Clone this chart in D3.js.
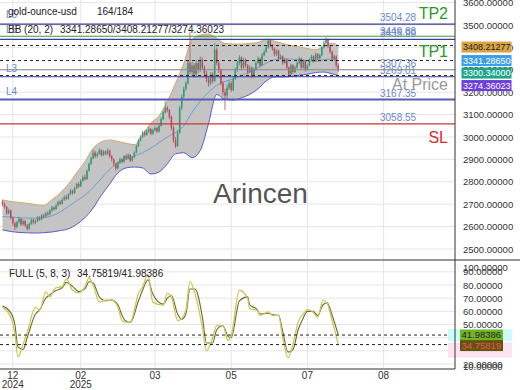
<!DOCTYPE html>
<html><head><meta charset="utf-8">
<script src="https://cdn.jsdelivr.net/npm/d3@7/dist/d3.min.js"></script>
<style>html,body{margin:0;padding:0;background:#fff;}svg{display:block;font-family:"Liberation Sans",Arial,sans-serif;}</style>
</head><body><svg id="c" width="520" height="390"></svg>
<script>
// ---------- data ----------
const firstOpen = 2712;
const closes = [2700,2688,2660,2672,2640,2615,2598,2620,2635,2610,2625,2605,2590,2612,2630,2618,2625,2640,2632,2650,2645,2660,2655,2672,2685,2678,2695,2710,2702,2720,2732,2725,2745,2760,2750,2772,2790,2780,2805,2820,2812,2850,2880,2905,2930,2915,2925,2940,2920,2935,2925,2940,2915,2900,2880,2860,2885,2900,2890,2915,2905,2920,2895,2910,2930,2960,2985,3000,3020,3010,3025,3035,3015,3030,3040,3025,3050,3080,3110,3130,3120,3090,3040,2985,2960,3020,3130,3180,3215,3240,3330,3290,3320,3280,3330,3300,3345,3310,3285,3260,3240,3280,3250,3390,3330,3300,3240,3200,3185,3220,3240,3210,3260,3300,3330,3355,3310,3345,3320,3290,3310,3270,3300,3330,3350,3320,3365,3380,3400,3430,3410,3395,3370,3385,3350,3360,3330,3345,3310,3280,3320,3290,3310,3330,3350,3310,3340,3300,3320,3345,3360,3340,3370,3350,3365,3400,3420,3435,3405,3380,3350,3360,3320,3300.34];
const highs = [2720,2708,2692,2680,2676,2645,2622,2626,2642,2638,2632,2630,2612,2618,2636,2635,2632,2648,2646,2656,2658,2666,2668,2678,2692,2690,2702,2716,2718,2726,2740,2742,2750,2768,2765,2778,2796,2798,2812,2828,2832,2856,2886,2912,2945,2938,2932,2950,2945,2942,2940,2948,2944,2920,2905,2885,2892,2908,2906,2920,2922,2928,2924,2916,2936,2966,2992,3008,3028,3030,3034,3045,3040,3038,3050,3046,3058,3088,3118,3160,3140,3125,3095,3050,3000,3030,3140,3190,3225,3250,3340,3470,3335,3330,3345,3340,3360,3355,3320,3295,3270,3290,3290,3420,3400,3340,3305,3250,3215,3235,3255,3250,3270,3310,3340,3365,3360,3355,3350,3325,3320,3315,3310,3340,3360,3355,3375,3390,3410,3440,3438,3415,3400,3392,3390,3370,3365,3352,3350,3315,3328,3325,3318,3338,3358,3355,3348,3345,3328,3352,3368,3365,3378,3375,3372,3408,3430,3445,3440,3410,3385,3368,3365,3330];
const lows = [2690,2680,2652,2655,2632,2605,2585,2592,2614,2602,2604,2598,2582,2586,2606,2610,2612,2620,2625,2628,2638,2640,2648,2650,2666,2670,2674,2690,2696,2698,2715,2718,2720,2740,2742,2746,2766,2772,2776,2800,2805,2808,2845,2875,2900,2905,2908,2920,2912,2915,2918,2920,2908,2890,2870,2848,2855,2880,2882,2885,2898,2900,2888,2890,2905,2926,2955,2980,2995,3002,3005,3018,3008,3010,3024,3018,3020,3045,3075,3105,3110,3080,3030,2975,2950,2955,3015,3120,3170,3205,3235,3280,3275,3265,3270,3285,3290,3300,3270,3245,3225,3230,3240,3245,3320,3285,3230,3185,3120,3170,3210,3200,3205,3255,3290,3320,3300,3305,3310,3280,3285,3262,3265,3295,3325,3310,3315,3360,3375,3395,3400,3385,3360,3362,3342,3345,3322,3325,3300,3268,3275,3282,3285,3305,3325,3302,3305,3292,3295,3315,3340,3332,3335,3342,3345,3360,3395,3412,3398,3372,3342,3340,3310,3290];

// Bollinger Bands (20, 2), read at sampled bars
const bbBars  = [0,4,8,12,16,20,24,28,32,36,40,44,48,52,56,60,64,68,72,76,80,84,88,92,96,100,104,108,112,116,120,124,128,132,136,140,144,148,152,156,160,163];
const bbUpper = [2719,2712,2708,2704,2698,2695,2720,2750,2790,2840,2890,2950,2978,2987,2980,2972,2966,3010,3062,3095,3160,3240,3330,3435,3455,3460,3440,3418,3415,3415,3418,3422,3435,3428,3418,3408,3402,3395,3390,3405,3418,3408.21277];
const bbMid   = [2645,2643,2640,2638,2638,2640,2648,2665,2690,2715,2740,2775,2815,2855,2885,2900,2915,2930,2950,2975,3000,3020,3050,3110,3160,3200,3230,3248,3260,3275,3290,3310,3330,3345,3350,3348,3345,3340,3338,3345,3348,3341.2865];
const bbLower = [2585,2578,2574,2572,2571,2573,2576,2582,2590,2610,2640,2683,2740,2790,2840,2862,2866,2862,2835,2844,2880,2925,2930,2908,2940,3060,3190,3168,3165,3175,3190,3215,3250,3268,3268,3270,3276,3280,3288,3290,3282,3274.36023];

// FULL stochastic (5, 8, 3), read at sampled bars
const oscBars = [0,4,6,7.5,10,12,16,18,21,23,25.5,29,31,34,37,40,42,44,47,50,53,56,58,59.5,62,66,68,70.6,73,78,80,82,85,87,89,91,93.4,97,99,102,104,107,109.5,111,115,119,120,123.5,125,129,131,134,136,138.6,141,143.5,146,148,150.7,153,155.6,157.6,160,163];
const oscK = [63,55.6,43,25.4,35,44,63,60.8,74.8,71,77.7,78.7,84.6,76,74,78.7,85.3,80,67,68.5,68.5,63.3,53,51.8,51.8,73.6,78.7,88,67,64.6,73.6,71,53,54.6,60.8,82.6,73.6,48,30,40,49.2,49.2,37.7,41.5,76,69.8,62,60.8,57,59.5,57,57,40,24.8,35,51.8,58,61.3,59.5,55.6,68.5,66,53,34.75819];
const oscD = [64,59,50,33,31,40,58,61,70,72.5,75.5,78,82,79,75,77,82.5,81.5,71,68,68.5,65,57,53,51.5,68,76,84,73,65.5,70,72,58,54,58,77,77,56,36,36,46,49,41,40,68,71,65,61.5,58,58.5,57.5,57,45,29,31,46,55,60,60,57,65,66.5,57,41.98386];

// levels
const levels = [
  {v:3504.28, label:"3504.28", color:"#3a3a90", w:1.2, off:3},
  {v:3449.88, label:"3449.88", color:"#3d9a3d", w:1.2, off:1},
  {v:3435.99, label:"3435.99", color:"#3a3aa0", w:1.2, off:2},
  {v:3300.34, label:"3307.36", color:"#8a8a8a", w:1,   off:3},
  {v:3269.01, label:"3269.01", color:"#3a3aa0", w:1.2, off:3},
  {v:3167.35, label:"3167.35", color:"#5a5ab0", w:2,   off:3},
  {v:3058.55, label:"3058.55", color:"#cc3333", w:1.2, off:3}
];
const dashedLevels = [3408.21277, 3341.2865, 3274.36023];
const priceTicks = [2500,2600,2700,2800,2900,3000,3100,3200,3300,3400,3500,3600];
const oscTicks = [10,20,30,40,50,60,70,80,90,100];
const xTickBars = [5, 38, 74, 111, 148, 185];
const xTickLabels = [["12","2024"],["02","2025"],["03",""],["05",""],["07",""],["08",""]];
const priceBoxes = [
  {v:3408.21277, text:"3408.21277", bg:"#d9a443", fg:"#222"},
  {v:3341.2865,  text:"3341.28650", bg:"#3d9fe8", fg:"#fff"},
  {v:3300.34,    text:"3300.34000", bg:"#1fa58a", fg:"#fff"},
  {v:3274.36023, text:"3274.36023", bg:"#6a3fdc", fg:"#fff"}
];

// ---------- scales ----------
const svg = d3.select("#c");
const W = 455;
const x = d3.scaleLinear().domain([0,163]).range([2.5,338.3]);
const y = d3.scaleLinear().domain([2500,3500]).range([249,25]);
const oy = d3.scaleLinear().domain([50,80]).range([324.5,285]);

const defs = svg.append("defs");
defs.append("clipPath").attr("id","mainClip").append("rect").attr("x",0).attr("y",0).attr("width",W).attr("height",259);
defs.append("clipPath").attr("id","oscClip").append("rect").attr("x",0).attr("y",261).attr("width",W).attr("height",107);

// gridlines
const main = svg.append("g").attr("clip-path","url(#mainClip)");
main.selectAll("line.hg").data(priceTicks).join("line")
  .attr("x1",0).attr("x2",W).attr("y1",d=>y(d)).attr("y2",d=>y(d))
  .attr("stroke","#e6e6e6").attr("stroke-width",1);
main.selectAll("line.vg").data(xTickBars).join("line")
  .attr("x1",d=>x(d)).attr("x2",d=>x(d)).attr("y1",0).attr("y2",259)
  .attr("stroke","#e6e6e6");

// BB
const bb = bbBars.map((b,i)=>({b, u:bbUpper[i], m:bbMid[i], l:bbLower[i]}));
main.append("path").datum(bb)
  .attr("d", d3.area().x(d=>x(d.b)).y0(d=>y(d.l)).y1(d=>y(d.u)).curve(d3.curveMonotoneX))
  .attr("fill","#c4c4c4");
main.append("path").datum(bb)
  .attr("d", d3.line().x(d=>x(d.b)).y(d=>y(d.u)).curve(d3.curveMonotoneX))
  .attr("fill","none").attr("stroke","#d2a868").attr("stroke-width",1);
main.append("path").datum(bb)
  .attr("d", d3.line().x(d=>x(d.b)).y(d=>y(d.l)).curve(d3.curveMonotoneX))
  .attr("fill","none").attr("stroke","#5a5ad0").attr("stroke-width",1);
main.append("path").datum(bb)
  .attr("d", d3.line().x(d=>x(d.b)).y(d=>y(d.m)).curve(d3.curveMonotoneX))
  .attr("fill","none").attr("stroke","#6f9fd0").attr("stroke-width",1);

// candles
const candles = closes.map((c,i)=>({i, o: i===0?firstOpen:closes[i-1], c, h:highs[i], l:lows[i]}));
const cg = main.append("g");
cg.selectAll("line.wick").data(candles).join("line")
  .attr("x1",d=>x(d.i)).attr("x2",d=>x(d.i))
  .attr("y1",d=>y(d.h)).attr("y2",d=>y(d.l))
  .attr("stroke",d=>d.c>=d.o?"#2f9a73":"#c0475a").attr("stroke-width",0.8);
cg.selectAll("rect.body").data(candles).join("rect")
  .attr("x",d=>x(d.i)-0.75).attr("width",1.5)
  .attr("y",d=>y(Math.max(d.o,d.c)))
  .attr("height",d=>Math.max(0.8, Math.abs(y(d.o)-y(d.c))))
  .attr("fill",d=>d.c>=d.o?"#2f9a73":"#c0475a");

// level lines
main.selectAll("line.lvl").data(levels).join("line")
  .attr("x1",0).attr("x2",W).attr("y1",d=>y(d.v)).attr("y2",d=>y(d.v))
  .attr("stroke",d=>d.color).attr("stroke-width",d=>d.w);
main.selectAll("line.dl").data(dashedLevels).join("line")
  .attr("x1",0).attr("x2",W).attr("y1",d=>y(d)).attr("y2",d=>y(d))
  .attr("stroke","#222").attr("stroke-width",1).attr("stroke-dasharray","3,3");

// level labels
svg.selectAll("text.lvl").data(levels).join("text")
  .attr("x",380).attr("y",d=>y(d.v)-d.off)
  .attr("font-size",10).attr("fill","#6a88cc").text(d=>d.label);

// big labels
svg.append("text").attr("x",448).attr("y",19).attr("text-anchor","end").attr("font-size",16).attr("fill","#2a9a2a").text("TP2");
svg.append("text").attr("x",448).attr("y",57).attr("text-anchor","end").attr("font-size",16).attr("fill","#2a9a2a").text("TP1");
svg.append("text").attr("x",448).attr("y",90).attr("text-anchor","end").attr("font-size",16).attr("fill","#999").text("At Price");
svg.append("text").attr("x",448).attr("y",143).attr("text-anchor","end").attr("font-size",16).attr("fill","#dd2a2a").text("SL");
svg.append("text").attr("x",213).attr("y",203).attr("font-size",28).attr("fill","#555").text("Arincen");

// left small labels
[["L6",18],["L5",33],["L3",72],["L4",95]].forEach(([t,yy])=>{
  svg.append("text").attr("x",6).attr("y",yy).attr("font-size",10).attr("fill","#6a88cc").text(t);
});
// header
svg.append("text").attr("x",8).attr("y",15).attr("font-size",10).attr("fill","#222").text("gold-ounce-usd");
svg.append("text").attr("x",97).attr("y",15).attr("font-size",10).attr("fill","#222").text("164/184");
svg.append("text").attr("x",8).attr("y",33).attr("font-size",10).attr("fill","#222").text("BB (20, 2)");
svg.append("text").attr("x",60).attr("y",33).attr("font-size",10).attr("fill","#222")
  .text(`${bbMid[bbMid.length-1].toFixed(5)}/${bbUpper[bbUpper.length-1].toFixed(5)}/${bbLower[bbLower.length-1].toFixed(5)}`);

// price axis labels
svg.selectAll("text.pt").data(priceTicks).join("text")
  .attr("x",463).attr("y",d=>y(d)+3.5).attr("font-size",9.5).attr("fill","#333")
  .text(d=>d.toFixed(5));
// price boxes (stacked)
let lastY = -100;
priceBoxes.forEach((b,i)=>{
  let cy = i===0 ? y(b.v)+1.5 : Math.max(y(b.v), lastY+12.5);
  lastY = cy;
  svg.append("rect").attr("x",461.5).attr("y",cy-5.5).attr("width",50).attr("height",11).attr("fill",b.bg);
  svg.append("text").attr("x",463).attr("y",cy+3.3).attr("font-size",9).attr("fill",b.fg).text(b.text);
});

// ---------- oscillator ----------
const osc = svg.append("g").attr("clip-path","url(#oscClip)");
osc.selectAll("line.og").data(oscTicks).join("line")
  .attr("x1",0).attr("x2",W).attr("y1",d=>oy(d)).attr("y2",d=>oy(d)).attr("stroke","#e6e6e6");
osc.selectAll("line.ovg").data(xTickBars).join("line")
  .attr("x1",d=>x(d)).attr("x2",d=>x(d)).attr("y1",261).attr("y2",369).attr("stroke","#e6e6e6");
const ok = oscBars.map((b,i)=>({b, k:oscK[i], d:oscD[i]}));
osc.append("path").datum(ok).attr("d", d3.line().x(d=>x(d.b)).y(d=>oy(d.d)).curve(d3.curveMonotoneX))
  .attr("fill","none").attr("stroke","#6b6a2c").attr("stroke-width",1.1);
osc.append("path").datum(ok).attr("d", d3.line().x(d=>x(d.b)).y(d=>oy(d.k)).curve(d3.curveMonotoneX))
  .attr("fill","none").attr("stroke","#c9c95a").attr("stroke-width",1.3);
[oscD[oscD.length-1], oscK[oscK.length-1]].forEach(v=>{
  osc.append("line").attr("x1",0).attr("x2",W).attr("y1",oy(v)).attr("y2",oy(v))
    .attr("stroke","#222").attr("stroke-dasharray","3,3");
});
svg.append("text").attr("x",9).attr("y",277).attr("font-size",10).attr("fill","#222").text("FULL (5, 8, 3)");
svg.append("text").attr("x",77).attr("y",277).attr("font-size",10).attr("fill","#222")
  .text(`${oscK[oscK.length-1].toFixed(5)}/${oscD[oscD.length-1].toFixed(5)}`);

// osc axis labels
svg.selectAll("text.ot").data(oscTicks).join("text")
  .attr("x",463).attr("y",d=>Math.min(366, Math.max(267, oy(d)))+3.5).attr("font-size",9.5).attr("fill","#333")
  .text(d=>d.toFixed(5));
// osc value boxes
const dY = oy(oscD[oscD.length-1]), kY = oy(oscK[oscK.length-1]);
svg.append("rect").attr("x",448).attr("y",dY-6).attr("width",64).attr("height",12).attr("fill","#ccfbfb");
svg.append("rect").attr("x",448).attr("y",kY-2).attr("width",64).attr("height",15).attr("fill","#fde3f2");
svg.append("rect").attr("x",460).attr("y",dY-5.5).attr("width",43).attr("height",11).attr("fill","#72b423");
svg.append("text").attr("x",461.5).attr("y",dY+3.4).attr("font-size",9.5).attr("fill","#222").text(oscD[oscD.length-1].toFixed(5));
svg.append("rect").attr("x",460).attr("y",kY-4.5).attr("width",43).attr("height",11).attr("fill","#5e5612");
svg.append("text").attr("x",461.5).attr("y",kY+4.4).attr("font-size",9.5).attr("fill","#ff4a4a").text(oscK[oscK.length-1].toFixed(5));

// x axis labels
xTickBars.forEach((b,i)=>{
  svg.append("text").attr("x",x(b)).attr("y",379).attr("text-anchor","middle").attr("font-size",10).attr("fill","#333").text(xTickLabels[i][0]);
  if (xTickLabels[i][1]) svg.append("text").attr("x",x(b)).attr("y",388).attr("text-anchor","middle").attr("font-size",10).attr("fill","#333").text(xTickLabels[i][1]);
});

// frame
svg.append("line").attr("x1",0).attr("x2",520).attr("y1",260).attr("y2",260).attr("stroke","#333");
svg.append("line").attr("x1",0).attr("x2",W).attr("y1",369).attr("y2",369).attr("stroke","#333");
svg.append("line").attr("x1",W).attr("x2",W).attr("y1",0).attr("y2",369).attr("stroke","#333");
</script></body></html>
